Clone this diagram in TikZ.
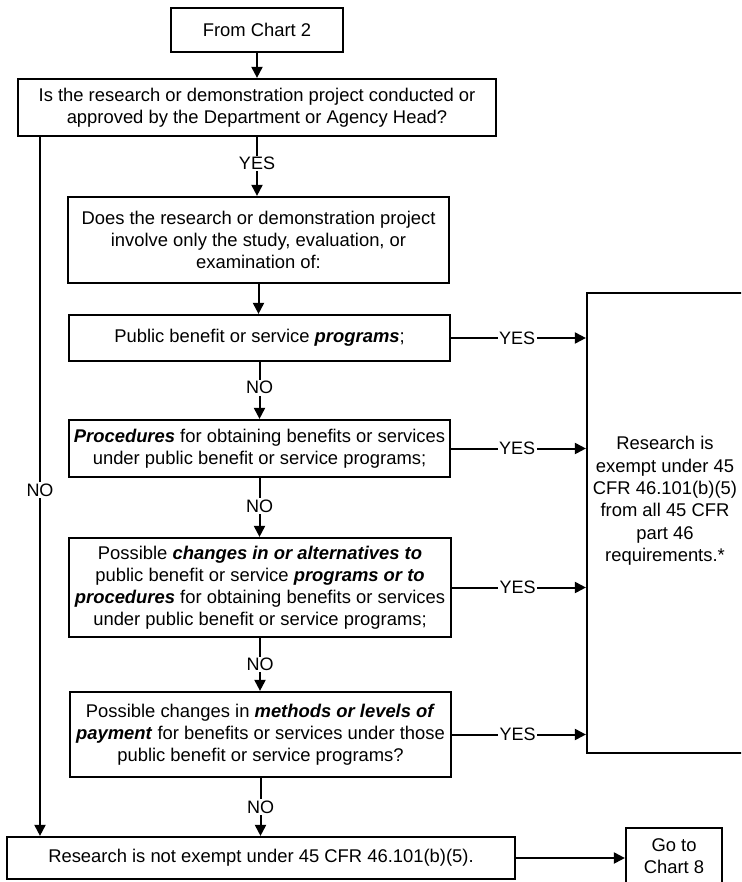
\documentclass[tikz,border=0pt]{standalone}
\usepackage{fontspec}
\setmainfont{Liberation Sans}
\usetikzlibrary{arrows.meta}
\newcommand{\bitext}[1]{\textbf{\textit{#1}}}
\begin{document}
\begin{tikzpicture}[x=1pt,y=-1pt,
  box/.style={draw, line width=2.2pt, align=center, inner sep=2pt,
    font=\fontsize{18.4}{22}\selectfont},
  flow/.style={line width=2pt, -{Triangle[length=11pt,width=11pt]}},
  tag/.style={fill=white, inner sep=1.5pt, font=\fontsize{18}{20}\selectfont}]
\useasboundingbox (0,0) rectangle (741,882);
\clip (0,0) rectangle (741,882);

% decision chain
\node[box, minimum width=172pt, minimum height=44pt] (b1) at (257,30) {From Chart 2};
\node[box, minimum width=478pt, minimum height=57pt] (b2) at (257,107.5)
  {Is the research or demonstration project conducted or\\approved by the Department or Agency Head?};
\node[box, minimum width=381pt, minimum height=86pt] (b3) at (258.5,240)
  {Does the research or demonstration project\\involve only the study, evaluation, or\\examination of:};
\node[box, minimum width=381pt, minimum height=46pt] (b4) at (259.5,338)
  {Public benefit or service \bitext{programs};};
\node[box, minimum width=381pt, minimum height=57pt] (b5) at (259.5,448.5)
  {\bitext{Procedures} for obtaining benefits or services\\under public benefit or service programs;};
\node[box, minimum width=382pt, minimum height=99pt] (b6) at (260,587.5)
  {Possible \bitext{changes in or alternatives to}\\public benefit or service \bitext{programs or to}\\\bitext{procedures} for obtaining benefits or services\\under public benefit or service programs;};
\node[box, minimum width=381pt, minimum height=85pt] (b7) at (260.5,734.5)
  {Possible changes in \bitext{methods or levels of}\\\bitext{payment} for benefits or services under those\\public benefit or service programs?};
\node[box, minimum width=508pt, minimum height=42pt] (b8) at (261,858)
  {Research is not exempt under 45 CFR 46.101(b)(5).};
\node[box, minimum width=96pt, minimum height=56pt] (b9) at (674,856) {Go to\\Chart 8};

% exemption box
\node[box, minimum width=160pt, minimum height=460pt] (ex) at (667,523) {};
\node[align=center, inner sep=0pt, font=\fontsize{18.4}{22.4}\selectfont] (extext) at (665,501)
  {Research is\\exempt under 45\\CFR 46.101(b)(5)\\from all 45 CFR\\part 46\\requirements.*};

% connectors
\coordinate (noline) at (40,0);
\draw[flow] (b1.south) -- (b1.south |- b2.north);
\draw[flow] (b2.south) -- (b2.south |- b3.north) node[tag, pos=0.45] {YES};
\draw[flow] (b3.south) -- (b3.south |- b4.north);
\draw[flow] (b4.south) -- (b4.south |- b5.north) node[tag, pos=0.45] {NO};
\draw[flow] (b5.south) -- (b5.south |- b6.north) node[tag, pos=0.48] {NO};
\draw[flow] (b6.south) -- (b6.south |- b7.north) node[tag, pos=0.5] {NO};
\draw[flow] (b7.south) -- (b7.south |- b8.north) node[tag, pos=0.5] {NO};
\draw[flow] (b2.south -| noline) -- (b8.north -| noline) node[tag, pos=0.505] {NO};

\draw[flow] (b4.east) -- (b4.east -| ex.west) node[tag, pos=0.49] {YES};
\draw[flow] (b5.east) -- (b5.east -| ex.west) node[tag, pos=0.49] {YES};
\draw[flow] (b6.east) -- (b6.east -| ex.west) node[tag, pos=0.49] {YES};
\draw[flow] (b7.east) -- (b7.east -| ex.west) node[tag, pos=0.49] {YES};

\draw[flow] (b8.east) -- (b8.east -| b9.west);
\end{tikzpicture}
\end{document}
